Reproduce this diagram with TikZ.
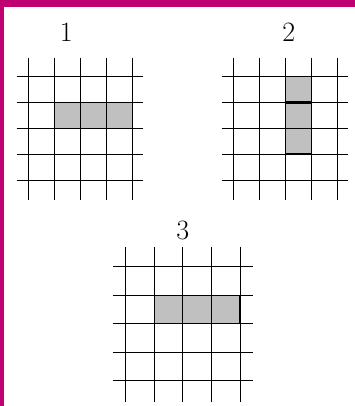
\documentclass[tikz,border=0pt]{standalone}
\usepackage{fontspec}
\definecolor{framemag}{RGB}{190,0,112}
\definecolor{cellgray}{RGB}{192,192,192}
\tikzset{
  gridline/.style={black, line width=1.0pt},
  cellfill/.style={fill=cellgray},
  thickline/.style={black, line width=2.2pt},
  lab/.style={font=\fontsize{28}{32}\selectfont, inner sep=0pt}
}
\begin{document}
\begin{tikzpicture}[x=1pt,y=-1pt]
\useasboundingbox (0,0) rectangle (355,406);
\fill[white] (0,0) rectangle (355,406);
% frame
\fill[framemag] (0,0) rectangle (355,7);
\fill[framemag] (0,0) rectangle (4.3,406);
% labels
\node[lab] (l1) at (66.2,31.8) {1};
\node[lab] (l2) at (288.7,32.4) {2};
\node[lab] (l3) at (182.7,230.0) {3};
% grid 1
\fill[cellfill] (54.2,102.5) rectangle (132.0,128.3);
\foreach \i in {0,...,4} {
  \draw[gridline] ({28.3+25.93*\i},57.7) -- ({28.3+25.93*\i},200);
  \draw[gridline] (16.7,{76.7+25.83*\i}) -- (143.3,{76.7+25.83*\i});
}
% grid 2
\fill[cellfill] (285.3,76.7) rectangle (311.3,154.2);
\foreach \i in {0,...,4} {
  \draw[gridline] ({233.3+26*\i},57.7) -- ({233.3+26*\i},200);
  \draw[gridline] (221.7,{76.7+25.83*\i}) -- (348.3,{76.7+25.83*\i});
}
\draw[thickline] (285.3,102.5) -- (311.3,102.5);
\draw[thickline] (285.3,154.2) -- (311.3,154.2);
% grid 3
\fill[cellfill] (154.3,295.2) rectangle (240.1,323.7);
\foreach \i in {0,...,4} {
  \draw[gridline] ({125.7+28.6*\i},246.7) -- ({125.7+28.6*\i},401.7);
  \draw[gridline] (113.3,{266.7+28.5*\i}) -- (253.3,{266.7+28.5*\i});
}
\draw[thickline] (240.1,295.2) -- (240.1,323.7);
\end{tikzpicture}
\end{document}
